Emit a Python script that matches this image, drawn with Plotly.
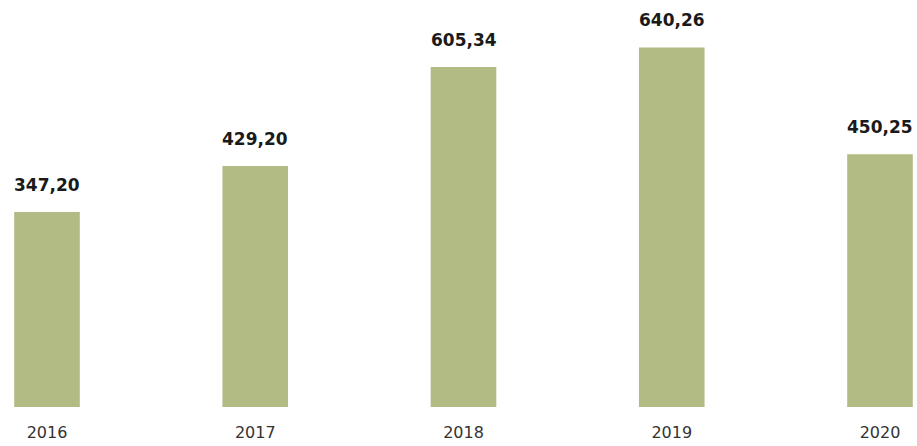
import plotly.graph_objects as go

years = ["2016", "2017", "2018", "2019", "2020"]
values = [347.20, 429.20, 605.34, 640.26, 450.25]
labels = [f"{v:.2f}".replace(".", ",") for v in values]

fig = go.Figure()
fig.add_trace(go.Bar(
    x=list(range(len(years))), y=values,
    width=0.315,
    marker=dict(color="#b2bb83", line=dict(width=0)),
    hoverinfo="skip",
))

for i, (v, t) in enumerate(zip(values, labels)):
    fig.add_annotation(x=i, y=v, text=t, showarrow=False, yanchor="bottom",
                       yshift=15, font=dict(family="DejaVu Sans", size=17, color="#1a1a1a", weight="bold"))

fig.update_layout(
    width=917, height=446,
    margin=dict(l=0, r=0, t=0, b=39),
    paper_bgcolor="white", plot_bgcolor="white",
    showlegend=False,
    xaxis=dict(range=[-0.2257, 4.1777], tickvals=list(range(len(years))), ticktext=years,
               showgrid=False, zeroline=False, showline=False, ticks="",
               tickfont=dict(family="DejaVu Sans", size=16, color="#333333"),
               ticklabelstandoff=14),
    yaxis=dict(range=[0, 724.7], visible=False, showgrid=False, zeroline=False),
)
fig.write_html("out.html")
